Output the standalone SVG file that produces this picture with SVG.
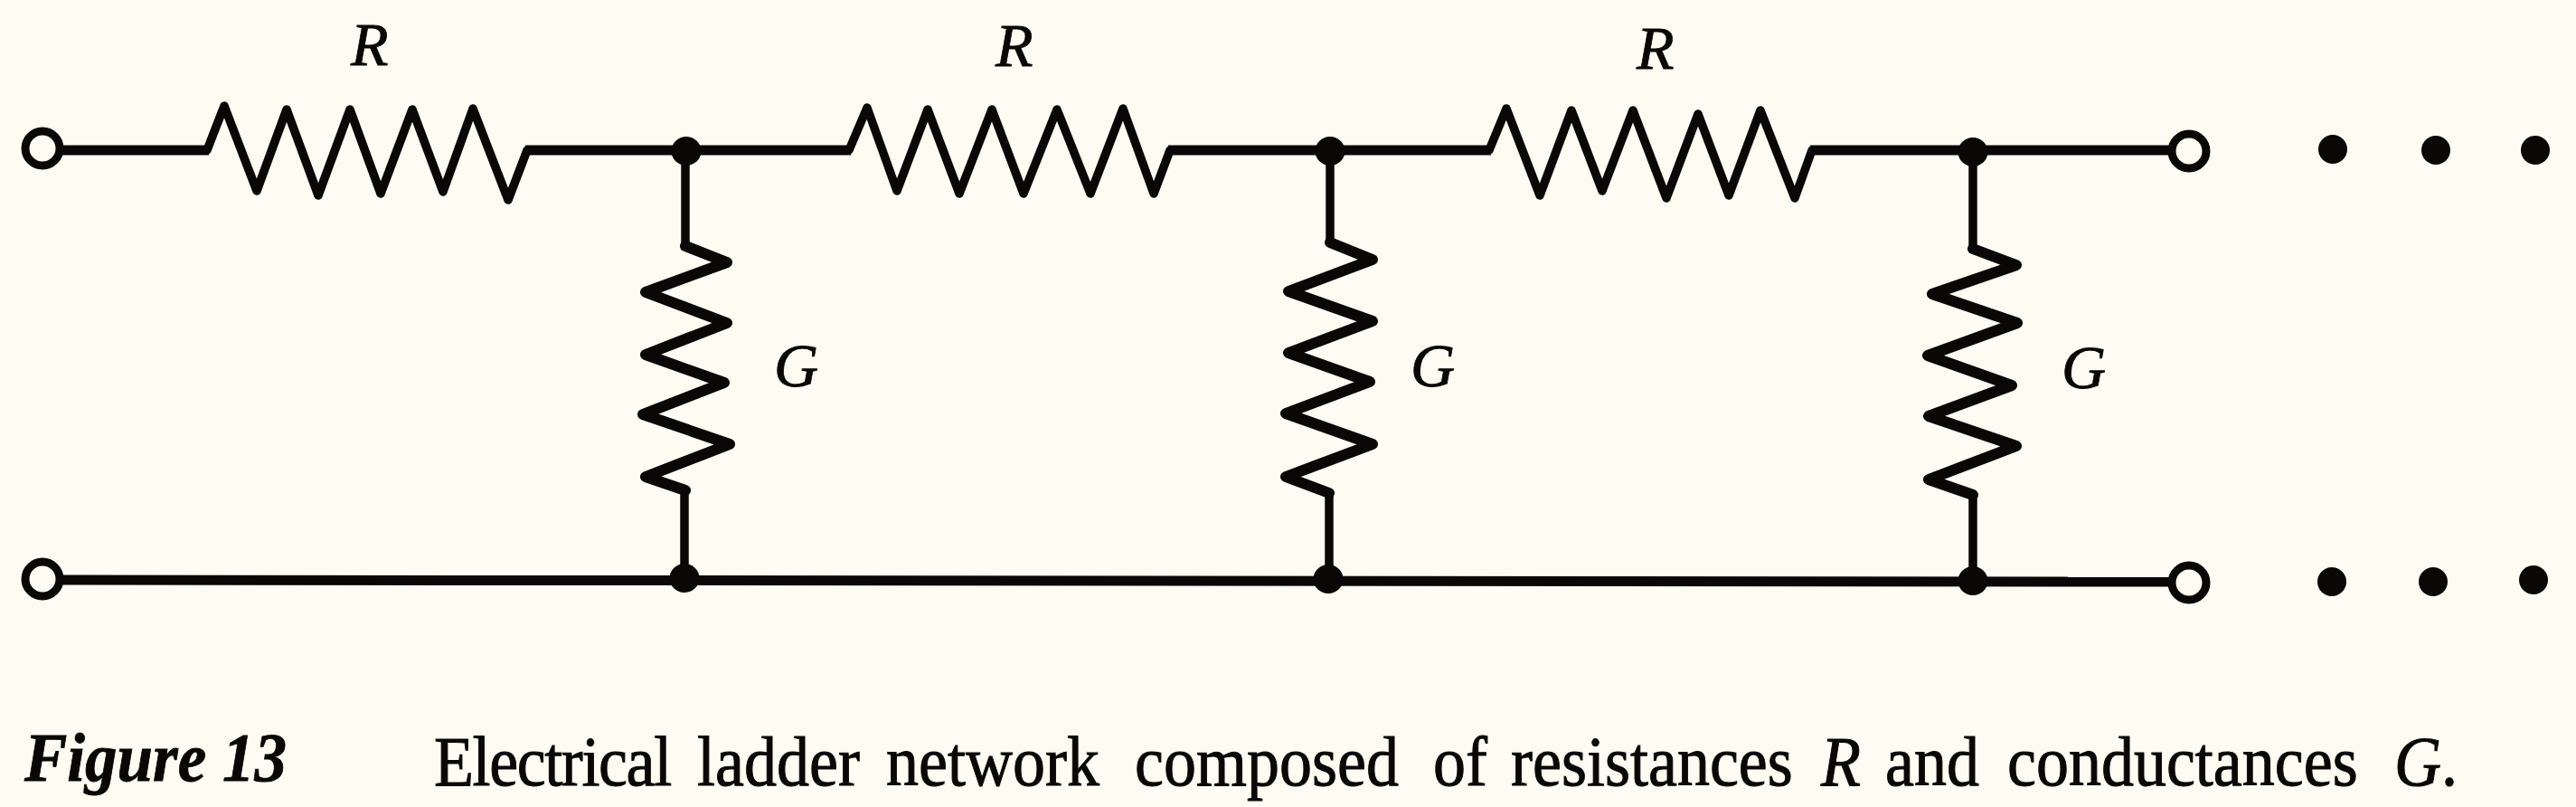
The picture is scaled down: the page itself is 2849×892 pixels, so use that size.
<svg xmlns="http://www.w3.org/2000/svg" width="2849" height="892" viewBox="0 0 2849 892">
<style>
.w{fill:none;stroke:#0a0806;stroke-width:11;stroke-linecap:butt;stroke-linejoin:miter}
.v{fill:none;stroke:#0a0806;stroke-width:9.5}
.r{fill:none;stroke:#0a0806;stroke-width:9.5;stroke-linejoin:round;stroke-linecap:round}
.g{fill:none;stroke:#0a0806;stroke-width:12;stroke-linejoin:round;stroke-linecap:round}
.t{fill:#fdfcf3;stroke:#0a0806;stroke-width:9}
.j{fill:#0a0806}
text{fill:#0a0806;font-family:"Liberation Serif","Times New Roman",serif}
.l{font-size:68px;font-style:italic;stroke:#0a0806;stroke-width:.8}
.f{font-size:71px;font-style:italic;font-weight:bold;stroke:#0a0806;stroke-width:.8}
.c{font-size:72px;stroke:#0a0806;stroke-width:.9}
.i{font-style:italic}
.e{letter-spacing:-1.4px}
</style>
<rect width="2849" height="892" fill="#fdfcf3"/>
<g id="connectors">
<path class="w" d="M68 166H231M581 166H941M1292 166H1649M2002 166H2400"/>
<path class="w" d="M68 641L2400 643"/>
<path class="v" d="M758 166V274M757 540V640M1471 166V270M1470 543V640M2182 167V277M2182 545V642"/>
</g>
<g id="R1"><polyline class="r" points="229,166 248,117 284,211 317,121 352,216 387,121 421,214 456,121 490,212 523,120 562,221 583,166"/><text class="l" x="388" y="72">R</text></g>
<g id="R2"><polyline class="r" points="939,166 959,119 992,211 1026,121 1061,214 1097,121 1132,214 1169,121 1206,214 1242,120 1276,214 1294,166"/><text class="l" x="1101" y="73">R</text></g>
<g id="R3"><polyline class="r" points="1647,166 1666,120 1703,216 1738,122 1772,211 1806,122 1843,219 1878,126 1912,216 1947,122 1985,219 2004,166"/><text class="l" x="1810" y="76">R</text></g>
<g id="G1"><polyline class="g" points="758,272 804,290 714,323 804,357 714,392 801,423 711,458 807,491 714,527 758,542"/><text class="l" x="856" y="427">G</text></g>
<g id="G2"><polyline class="g" points="1471,268 1518,287 1425,322 1518,355 1425,390 1515,422 1422,457 1518,491 1422,527 1470,545"/><text class="l" x="1560" y="427">G</text></g>
<g id="G3"><polyline class="g" points="2182,275 2230,293 2137,325 2231,357 2132,393 2225,426 2133,460 2230,493 2133,530 2182,547"/><text class="l" x="2280" y="429">G</text></g>
<g id="terminal-in-top"><circle class="t" cx="47" cy="164" r="19"/></g>
<g id="terminal-in-bottom"><circle class="t" cx="47" cy="640" r="19"/></g>
<g id="terminal-out-top"><circle class="t" cx="2421" cy="167" r="19"/></g>
<g id="terminal-out-bottom"><circle class="t" cx="2421" cy="644" r="19"/></g>
<g id="junctions">
<ellipse class="j" cx="759" cy="167" rx="16.5" ry="16"/><ellipse class="j" cx="757" cy="639" rx="16.5" ry="16"/>
<ellipse class="j" cx="1471" cy="167" rx="16.5" ry="16"/><ellipse class="j" cx="1469" cy="640" rx="16.5" ry="16"/>
<ellipse class="j" cx="2182" cy="168" rx="16.5" ry="16"/><ellipse class="j" cx="2182" cy="642" rx="16.5" ry="16"/>
</g>
<g id="ellipsis-top"><circle class="j" cx="2580" cy="165" r="16"/><circle class="j" cx="2694" cy="166" r="16"/><circle class="j" cx="2804" cy="166" r="16"/></g>
<g id="ellipsis-bottom"><circle class="j" cx="2579" cy="643" r="16"/><circle class="j" cx="2691" cy="643" r="16"/><circle class="j" cx="2802" cy="641" r="16"/></g>
<g id="caption">
<text class="f" transform="translate(0,863) scale(1,1.08)" x="27" y="0">Figure 13</text>
<text class="c" transform="translate(0,868) scale(1,1.08)" y="0"><tspan x="480" class="e">Electrical</tspan> <tspan x="771">ladder</tspan> <tspan x="980">network</tspan> <tspan x="1255">composed</tspan> <tspan x="1585">of</tspan> <tspan x="1671">resistances</tspan> <tspan x="2014" class="i">R</tspan> <tspan x="2085">and</tspan> <tspan x="2220">conductances</tspan> <tspan x="2648" class="i">G</tspan>.</text>
</g>
</svg>
